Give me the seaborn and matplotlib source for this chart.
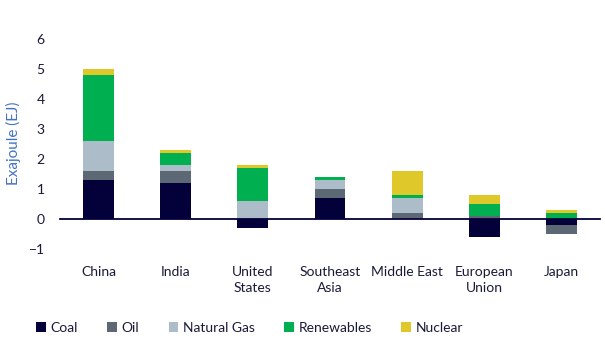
import numpy as np
import pandas as pd
import matplotlib
matplotlib.use("Agg")
import matplotlib.pyplot as plt
from matplotlib.patches import Patch
import seaborn as sns

regions = ["China", "India", "United\nStates", "Southeast\nAsia", "Middle East", "European\nUnion", "Japan"]
coal = [1.3, 1.2, -0.3, 0.7, 0.0, -0.6, -0.2]
oil = [0.3, 0.4, 0.0, 0.3, 0.2, 0.1, -0.3]
natural_gas = [1.0, 0.2, 0.6, 0.3, 0.5, 0.0, 0.0]
renewables = [2.2, 0.4, 1.1, 0.1, 0.1, 0.4, 0.2]
nuclear = [0.2, 0.1, 0.1, 0.0, 0.8, 0.3, 0.1]

series_names = ["Coal", "Oil", "Natural Gas", "Renewables", "Nuclear"]
series_vals = [coal, oil, natural_gas, renewables, nuclear]
colors = ["#03003A", "#5C6873", "#ADBCC9", "#00AF50", "#DFC82A"]
text_color = "#1A1A38"

sns.set_theme(style="white")
plt.rcParams["font.family"] = ["Lato", "DejaVu Sans"]

fig = plt.figure(figsize=(6.05, 3.38), dpi=100)
ax = fig.add_axes([60/605, 1-249/338, 540/605, 210/338])

pos_base = np.zeros(len(regions))
neg_base = np.zeros(len(regions))
for name, vals, col in zip(series_names, series_vals, colors):
    v = np.array(vals, dtype=float)
    bottom = np.where(v >= 0, pos_base, neg_base)
    df = pd.DataFrame({"region": regions, "value": v})
    sns.barplot(data=df, x="region", y="value", order=regions, color=col,
                width=0.4, bottom=bottom, ax=ax, saturation=1, linewidth=0,
                errorbar=None)
    pos_base = pos_base + np.where(v > 0, v, 0)
    neg_base = neg_base + np.where(v < 0, v, 0)

ax.set_ylim(-1, 6)
ax.set_xlim(-0.5, len(regions) - 0.5)
ax.set_yticks(range(-1, 7))
ax.set_ylabel("Exajoule (EJ)", color="#4472C4", fontsize=11)
ax.yaxis.set_label_coords(-39/540, 0.505)
ax.set_xlabel("")

for s in ["left", "right", "top"]:
    ax.spines[s].set_visible(False)
ax.spines["bottom"].set_position(("data", 0))
ax.spines["bottom"].set_color("#03003A")
ax.spines["bottom"].set_linewidth(1.3)

ax.set_xticks(range(len(regions)))
ax.set_xticklabels(regions, fontsize=10, color=text_color, va="top", linespacing=1.35)
ax.set_xticks(np.arange(-0.5, len(regions), 1.0), minor=True)
ax.tick_params(axis="x", which="major", length=0, pad=34)
ax.tick_params(axis="x", which="minor", length=4, width=1.2, color="#03003A", direction="out")
ax.tick_params(axis="y", length=0, pad=11, labelsize=10, labelcolor=text_color)
ax.grid(False)

handles = [Patch(facecolor=c, edgecolor="none") for c in colors]
fig.legend(handles, series_names, loc="center left", bbox_to_anchor=(36/605, 1-328/338),
           ncol=5, frameon=False, borderpad=0, borderaxespad=0,
           handlelength=0.7, handleheight=0.7, handletextpad=0.35,
           columnspacing=2.1, fontsize=10, labelcolor=text_color)

fig.savefig("out.png", dpi=100)
